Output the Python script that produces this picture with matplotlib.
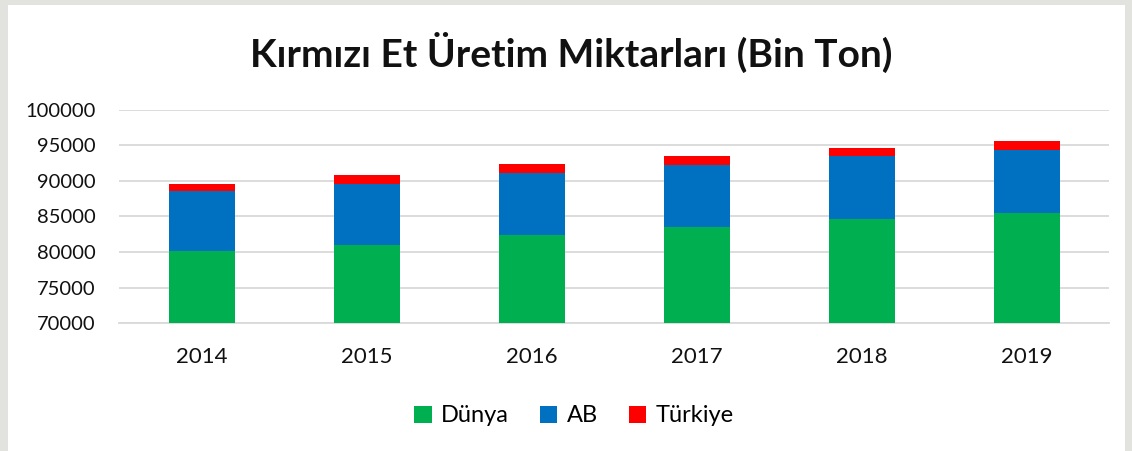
import matplotlib.pyplot as plt
from matplotlib.patches import Rectangle

years = ["2014", "2015", "2016", "2017", "2018", "2019"]
dunya = [80200, 81000, 82350, 83500, 84600, 85480]
ab = [8400, 8600, 8780, 8750, 8900, 8880]
turkiye = [1000, 1150, 1220, 1180, 1140, 1220]

plt.rcParams["font.family"] = ["Lato", "DejaVu Sans"]

fig = plt.figure(figsize=(11.32, 4.51), dpi=100)
fig.patch.set_facecolor("#e2e2de")
# white chart panel inside the gray frame
fig.patches.append(Rectangle((8 / 1132, 0), 1117 / 1132, 446 / 451,
                             transform=fig.transFigure, facecolor="white",
                             edgecolor="none", zorder=-10))

ax = fig.add_axes([119 / 1132, 1 - 323.3 / 451, 990 / 1132, 213.8 / 451])
ax.set_facecolor("none")

x = range(len(years))
base2 = [d + a for d, a in zip(dunya, ab)]
w = 0.4
ax.bar(x, [d - 70000 for d in dunya], w, bottom=70000, color="#00B050",
       label="Dünya", zorder=3)
ax.bar(x, ab, w, bottom=dunya, color="#0070C0", label="AB", zorder=3)
ax.bar(x, turkiye, w, bottom=base2, color="#FF0000", label="Türkiye", zorder=3)

ax.set_ylim(70000, 100000)
ax.set_xlim(-0.5, len(years) - 0.5)
ax.set_yticks(range(70000, 100001, 5000))
ax.set_xticks(list(x))
ax.set_xticklabels(years)
ax.grid(axis="y", color="#d9d9d9", linewidth=1.3, zorder=0)
for s in ["top", "right", "left"]:
    ax.spines[s].set_visible(False)
ax.spines["bottom"].set_color("#d9d9d9")
ax.spines["bottom"].set_linewidth(1.3)
ax.tick_params(length=0, colors="#111111")
ax.tick_params(axis="x", pad=17, labelsize=16)
ax.tick_params(axis="y", pad=17, labelsize=14.5)

fig.text(0.505, 1 - 52 / 451, "Kırmızı Et Üretim Miktarları (Bin Ton)",
         ha="center", va="center", fontsize=28, fontweight="bold",
         color="#111111")

fig.legend(loc="center", bbox_to_anchor=(0.507, 1 - 416 / 451), ncol=3,
           frameon=False, fontsize=17, handlelength=0.75, handleheight=0.75,
           handletextpad=0.4, columnspacing=1.3)

fig.savefig("out.png", dpi=100, facecolor=fig.get_facecolor())
